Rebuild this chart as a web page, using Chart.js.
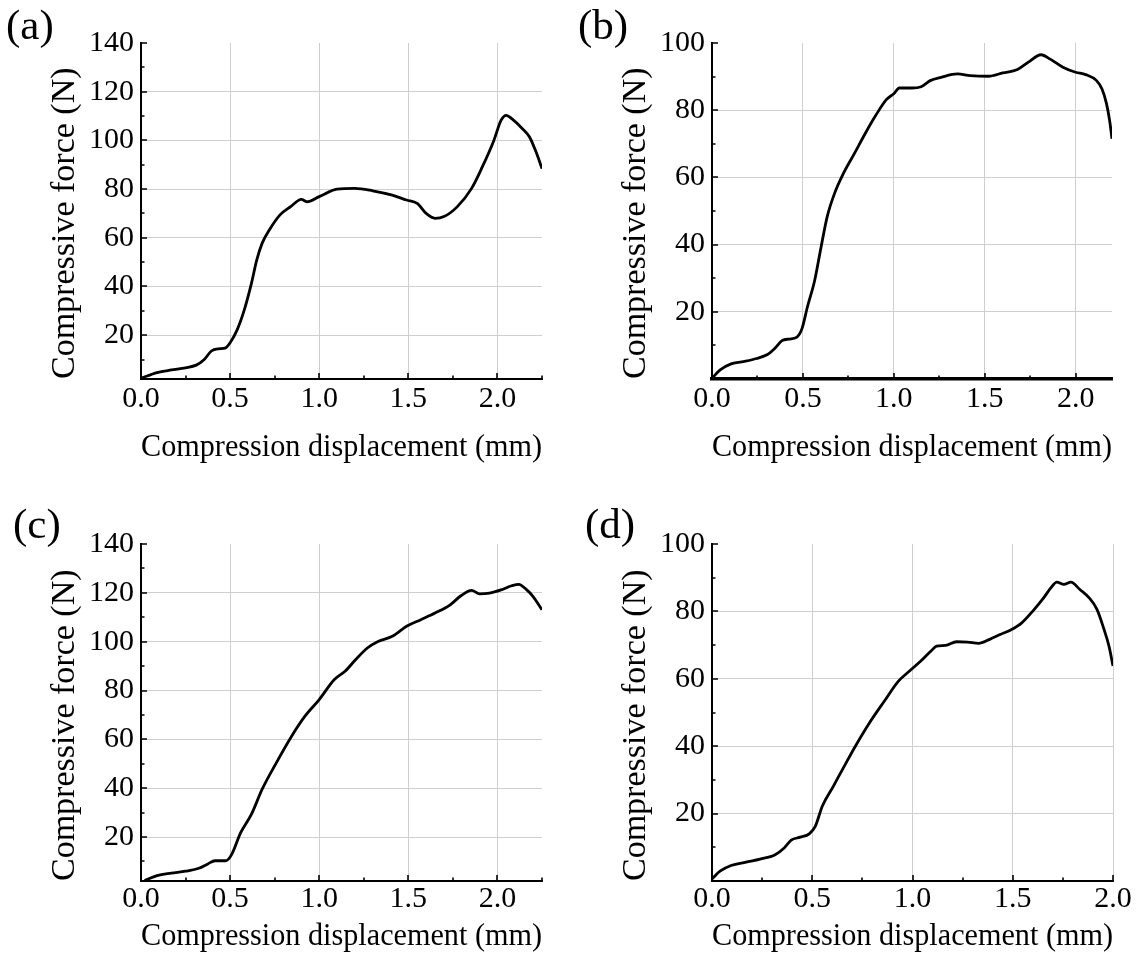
<!DOCTYPE html>
<html>
<head>
<meta charset="utf-8">
<script src="https://cdn.jsdelivr.net/npm/chart.js@4.4.1/dist/chart.umd.min.js"></script>
<style>
  html, body { margin: 0; padding: 0; background: #fff; }
  #fig { position: relative; width: 1136px; height: 963px; overflow: hidden; font-family: "Liberation Serif", "Times New Roman", serif; }
  .panel { position: absolute; }
  .tag { position: absolute; font-size: 43px; line-height: 1; color: #000; }
</style>
</head>
<body>
<div id="fig">
  <canvas id="chartA" class="panel" width="568" height="480" style="left:0;top:0"></canvas>
  <canvas id="chartB" class="panel" width="568" height="480" style="left:568px;top:0"></canvas>
  <canvas id="chartC" class="panel" width="568" height="483" style="left:0;top:480px"></canvas>
  <canvas id="chartD" class="panel" width="568" height="483" style="left:568px;top:480px"></canvas>
  <div class="tag" style="left:6px;top:3px">(a)</div>
  <div class="tag" style="left:578px;top:3px">(b)</div>
  <div class="tag" style="left:13px;top:502px">(c)</div>
  <div class="tag" style="left:585px;top:502px">(d)</div>
</div>
<script>
// --- DATA ---
const aX = [0.0, 0.09, 0.17, 0.25, 0.31, 0.355, 0.395, 0.435, 0.475, 0.5, 0.54, 0.58, 0.62, 0.65, 0.68, 0.72, 0.78, 0.84, 0.9, 0.93, 1.0, 1.1, 1.2, 1.3, 1.41, 1.49, 1.55, 1.6, 1.65, 1.7, 1.775, 1.855, 1.915, 1.98, 2.02, 2.05, 2.08, 2.14, 2.18, 2.22, 2.25];
const aY = [2.3, 4.6, 5.7, 6.6, 7.7, 10.0, 13.5, 14.4, 14.8, 16.9, 22.3, 30.5, 41.4, 51.0, 57.8, 63.2, 69.4, 72.8, 75.8, 74.8, 76.9, 80.0, 80.3, 79.3, 77.5, 75.5, 74.1, 70.0, 68.0, 68.7, 72.8, 80.3, 89.1, 100.0, 108.2, 110.3, 108.9, 104.8, 101.4, 94.6, 88.4];

const bX = [0.0, 0.045, 0.105, 0.185, 0.245, 0.305, 0.345, 0.385, 0.425, 0.465, 0.495, 0.525, 0.565, 0.6, 0.633, 0.673, 0.722, 0.782, 0.842, 0.9, 0.96, 1.0, 1.03, 1.1, 1.15, 1.2, 1.26, 1.35, 1.42, 1.52, 1.6, 1.68, 1.74, 1.81, 1.86, 1.93, 2.0, 2.055, 2.115, 2.145, 2.17, 2.187, 2.2];
const bY = [0.2, 2.7, 4.5, 5.3, 6.1, 7.3, 9.1, 11.4, 11.9, 12.4, 15.0, 21.5, 29.4, 39.3, 48.2, 55.1, 61.1, 67.0, 73.0, 78.4, 83.2, 84.9, 86.6, 86.6, 87.0, 88.8, 89.8, 90.8, 90.3, 90.1, 91.1, 92.1, 94.3, 96.5, 95.2, 92.8, 91.3, 90.6, 88.8, 86.3, 81.9, 76.9, 71.5];

const cX = [0.02, 0.09, 0.17, 0.25, 0.325, 0.375, 0.415, 0.475, 0.505, 0.56, 0.62, 0.68, 0.76, 0.84, 0.92, 1.0, 1.085, 1.145, 1.205, 1.27, 1.33, 1.41, 1.49, 1.57, 1.65, 1.735, 1.795, 1.855, 1.9, 1.955, 2.02, 2.08, 2.12, 2.16, 2.2, 2.25];
const cY = [2.2, 4.2, 5.2, 6.0, 7.2, 9.0, 10.3, 10.3, 12.4, 21.9, 29.4, 39.6, 50.5, 60.7, 69.5, 76.3, 84.5, 87.9, 92.7, 97.4, 100.1, 102.2, 106.3, 109.0, 111.7, 115.1, 118.8, 121.0, 119.6, 119.9, 121.2, 122.9, 123.5, 121.5, 118.5, 113.1];

const dX = [0.0, 0.04, 0.095, 0.17, 0.24, 0.315, 0.36, 0.395, 0.44, 0.485, 0.515, 0.55, 0.605, 0.66, 0.715, 0.785, 0.86, 0.93, 0.985, 1.04, 1.095, 1.12, 1.165, 1.22, 1.275, 1.33, 1.385, 1.44, 1.49, 1.545, 1.6, 1.655, 1.69, 1.72, 1.755, 1.79, 1.835, 1.88, 1.92, 1.955, 1.98, 2.0];
const dY = [0.6, 2.9, 4.6, 5.6, 6.5, 7.8, 9.8, 12.1, 13.0, 14.0, 16.2, 22.2, 28.1, 34.1, 40.0, 46.9, 53.4, 59.3, 62.3, 65.2, 68.4, 69.7, 69.9, 71.0, 70.9, 70.5, 71.7, 73.2, 74.5, 76.6, 80.1, 84.1, 87.0, 88.7, 88.0, 88.7, 86.5, 84.1, 80.6, 74.7, 69.7, 63.8];

// axis ticks: labelled majors, unlabelled minors
const xMajor = [0, 0.5, 1.0, 1.5, 2.0];
const xMinor = [0.25, 0.75, 1.25, 1.75, 2.25];
const yMajor140 = [20, 40, 60, 80, 100, 120, 140];
const yMinor140 = [10, 30, 50, 70, 90, 110, 130];
const yMajor100 = [20, 40, 60, 80, 100];
const yMinor100 = [10, 30, 50, 70, 90];

const X_TITLE = "Compression displacement (mm)";
const Y_TITLE = "Compressive force (N)";
const FONT = "'Liberation Serif', 'Times New Roman', serif";

// draws short inward tick marks along the two axes
const innerTicks = {
  id: "innerTicks",
  afterDraw(chart, args, opts) {
    const { ctx, chartArea, scales } = chart;
    ctx.save();
    ctx.strokeStyle = "#000";
    ctx.lineWidth = 1.6;
    ctx.beginPath();
    const mark = (vals, len, isX) => {
      vals.forEach(v => {
        if (isX) {
          if (v < scales.x.min || v > scales.x.max) return;
          const px = Math.round(scales.x.getPixelForValue(v));
          ctx.moveTo(px, chartArea.bottom);
          ctx.lineTo(px, chartArea.bottom - len);
        } else {
          if (v < scales.y.min || v > scales.y.max) return;
          const py = Math.round(scales.y.getPixelForValue(v));
          ctx.moveTo(chartArea.left, py);
          ctx.lineTo(chartArea.left + len, py);
        }
      });
    };
    mark(opts.xMajor, 6, true);
    mark(opts.xMinor, 3.5, true);
    mark(opts.yMajor, 6, false);
    mark(opts.yMinor, 3.5, false);
    ctx.stroke();
    ctx.restore();
  }
};

function makePanel(id, xs, ys, cfg) {
  const points = xs.map((x, i) => ({ x: x, y: ys[i] }));
  return new Chart(document.getElementById(id), {
    type: "scatter",
    data: {
      datasets: [{
        data: points,
        showLine: true,
        borderColor: "#000",
        borderWidth: 2.8,
        pointRadius: 0,
        cubicInterpolationMode: "monotone",
        fill: false
      }]
    },
    plugins: [innerTicks],
    options: {
      responsive: false,
      animation: false,
      events: [],
      layout: { padding: { left: 0, top: cfg.top, right: cfg.right, bottom: 0 } },
      plugins: {
        legend: { display: false },
        tooltip: { enabled: false },
        innerTicks: { xMajor: xMajor, xMinor: xMinor, yMajor: cfg.yMajor, yMinor: cfg.yMinor }
      },
      scales: {
        x: {
          type: "linear",
          min: 0,
          max: cfg.xMax,
          afterBuildTicks: s => { s.ticks = xMajor.filter(v => v <= cfg.xMax).map(v => ({ value: v })); },
          afterFit: s => { s.height = cfg.xBox; s.paddingLeft = 0; s.paddingRight = 0; },
          grid: {
            drawTicks: false,
            color: c => (c.tick && c.tick.value === 0) ? "rgba(0,0,0,0)" : "#cfcfcf",
            lineWidth: 1
          },
          border: { display: true, color: "#000", width: cfg.xBorder },
          ticks: {
            padding: cfg.xTickPad,
            color: "#000",
            font: { family: FONT, size: 30 },
            maxRotation: 0,
            autoSkip: false,
            callback: v => Number(v).toFixed(1)
          },
          title: {
            display: true,
            text: X_TITLE,
            color: "#000",
            font: { family: FONT, size: 32 },
            padding: { top: 0, bottom: cfg.xTitlePad }
          }
        },
        y: {
          type: "linear",
          min: cfg.yMin,
          max: cfg.yMax,
          afterBuildTicks: s => { s.ticks = cfg.yMajor.map(v => ({ value: v })); },
          afterFit: s => { s.width = cfg.yBox; s.paddingTop = 0; s.paddingBottom = 0; },
          grid: {
            drawTicks: false,
            color: c => (c.tick && c.tick.value === cfg.yMax) ? "rgba(0,0,0,0)" : "#cfcfcf",
            lineWidth: 1
          },
          border: { display: true, color: "#000", width: 2 },
          ticks: {
            padding: 7,
            color: "#000",
            font: { family: FONT, size: 30 },
            autoSkip: false,
            callback: v => String(v)
          },
          title: {
            display: true,
            text: Y_TITLE,
            align: "start",
            color: "#000",
            font: { family: FONT, size: 34 },
            padding: { top: cfg.yTitlePad, bottom: 0 }
          }
        }
      }
    }
  });
}

makePanel("chartA", aX, aY, {
  top: 43, right: 26, xBox: 101, yBox: 141, xMax: 2.25, yMin: 2, yMax: 140,
  yMajor: yMajor140, yMinor: yMinor140, xBorder: 2, xTickPad: 2, xTitlePad: 13, yTitlePad: 45
});
makePanel("chartB", bX, bY, {
  top: 43, right: 24, xBox: 101, yBox: 144, xMax: 2.2, yMin: 0, yMax: 100,
  yMajor: yMajor100, yMinor: yMinor100, xBorder: 3.5, xTickPad: 2, xTitlePad: 13, yTitlePad: 48
});
makePanel("chartC", cX, cY, {
  top: 64, right: 26, xBox: 82, yBox: 141, xMax: 2.25, yMin: 2, yMax: 140,
  yMajor: yMajor140, yMinor: yMinor140, xBorder: 2, xTickPad: 0, xTitlePad: 7, yTitlePad: 45
});
makePanel("chartD", dX, dY, {
  top: 64, right: 23, xBox: 82, yBox: 144, xMax: 2.0, yMin: 0, yMax: 100,
  yMajor: yMajor100, yMinor: yMinor100, xBorder: 2, xTickPad: 0, xTitlePad: 7, yTitlePad: 48
});
</script>
</body>
</html>
